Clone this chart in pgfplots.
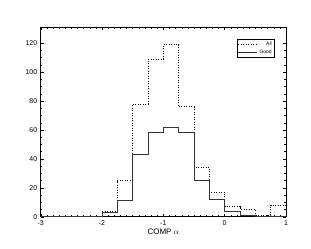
\documentclass[border=0pt]{standalone}
\usepackage{pgfplots}
\pgfplotsset{compat=1.18}
\usepackage{fontspec}
\setmainfont{Liberation Sans}
\begin{document}
\begin{tikzpicture}[x=1bp,y=1bp]
\useasboundingbox (-40.7bp,-32.3bp) rectangle (270.3bp,216.7bp);
\begin{axis}[
  at={(0,0)}, anchor=south west,
  scale only axis, width=245.3bp, height=189.4bp,
  xmin=-3, xmax=1, ymin=0, ymax=131,
  xtick={-3,-2,-1,0,1}, ytick={0,20,40,60,80,100,120},
  minor x tick num=9, minor y tick num=3,
  tick align=inside, major tick length=3bp, minor tick length=1.6bp,
  tick style={line width=0.4pt, black},
  axis line style={line width=0.5pt},
  /pgf/number format/assume math mode=true,
  ticklabel style={font=\fontsize{7}{8}\selectfont},
  xlabel={COMP $\alpha$},
  xlabel style={font=\fontsize{8}{9}\selectfont, yshift=3bp},
  legend style={at={(0.955,0.94)}, anchor=north east, font=\fontsize{5}{5.5}\selectfont,
    draw=black, line width=0.5pt, inner sep=1pt, row sep=-1.5pt, cells={anchor=east}},
  legend cell align=right,
  legend image post style={xscale=1.1},
]
\addplot[const plot mark left, black, dash pattern=on 0.9bp off 1.6bp, line width=0.8pt] coordinates {
(-3,0) (-2,4) (-1.75,25) (-1.5,78) (-1.25,109) (-1,119) (-0.75,76) (-0.5,34) (-0.25,17) (0,7) (0.25,5) (0.5,1) (0.75,8) (1,8)};
\addlegendentry{All}
\addplot[const plot mark left, black!80, line width=0.7pt] coordinates {
(-3,0) (-2,3) (-1.75,11) (-1.5,43) (-1.25,58) (-1,62) (-0.75,58) (-0.5,25) (-0.25,12) (0,4) (0.25,1) (0.5,0) (1,0)};
\addlegendentry{Good}
\end{axis}
\end{tikzpicture}
\end{document}
